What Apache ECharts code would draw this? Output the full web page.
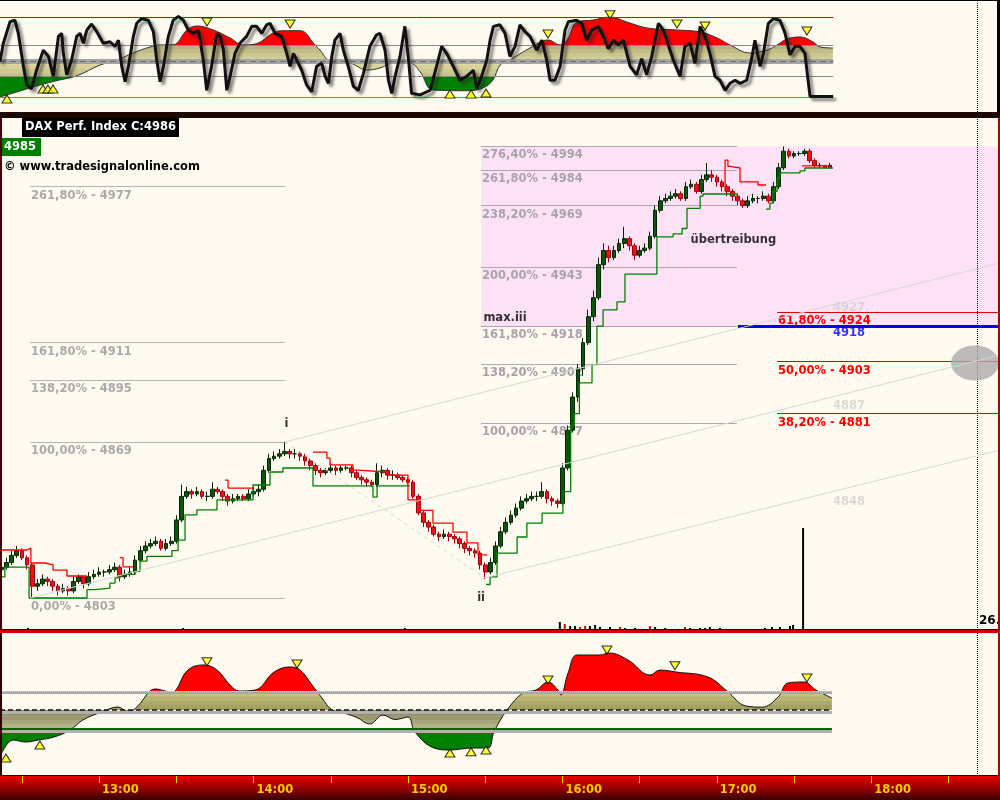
<!DOCTYPE html>
<html><head><meta charset="utf-8">
<script src="https://cdn.jsdelivr.net/npm/echarts@6/dist/echarts.min.js"></script>
<style>html,body{margin:0;padding:0;background:#fffaf0}#c{width:1000px;height:800px}</style>
</head><body><div id="c"></div>
<script>
// ===================== DATA (minutes after 12:00 on x, index points on y) =====================
const barStartMinute = 22, barStepMinutes = 2;
const opens = [4815,4816,4818,4821,4823,4820,4817,4808,4809,4811,4810,4808,4806,4807,4806,4810,4812,4809,4812,4813,4814,4814,4815,4816,4812,4813,4814,4819,4823,4825,4826,4827,4824,4826,4827,4836,4846,4848,4847,4848,4846,4846,4849,4848,4846,4844,4845,4846,4845,4847,4848,4849,4857,4862,4863,4864,4865,4864,4864,4863,4861,4859,4857,4856,4857,4858,4857,4858,4858,4856,4854,4853,4852,4851,4856,4857,4855,4855,4854,4853,4852,4846,4839,4835,4833,4830,4829,4830,4829,4828,4826,4824,4823,4822,4817,4814,4818,4825,4831,4835,4838,4841,4844,4845,4846,4846,4848,4845,4844,4843,4858,4874,4888,4900,4911,4922,4930,4944,4950,4947,4950,4953,4955,4952,4948,4950,4951,4956,4967,4971,4972,4973,4974,4972,4977,4978,4975,4980,4982,4981,4979,4977,4975,4973,4971,4969,4971,4972,4972,4973,4971,4977,4985,4992,4990,4991,4991,4992,4988,4986,4986,4985];
const closes = [4816,4818,4821,4823,4820,4817,4808,4809,4811,4810,4808,4806,4807,4806,4810,4812,4809,4812,4813,4814,4814,4815,4816,4812,4813,4814,4819,4823,4825,4826,4827,4824,4826,4827,4836,4846,4848,4847,4848,4846,4846,4849,4848,4846,4844,4845,4846,4845,4847,4848,4849,4857,4862,4863,4864,4865,4864,4864,4863,4861,4859,4857,4856,4857,4858,4857,4858,4858,4856,4854,4853,4852,4851,4856,4857,4855,4855,4854,4853,4852,4846,4839,4835,4833,4830,4829,4830,4829,4828,4826,4824,4823,4822,4817,4814,4818,4825,4831,4835,4838,4841,4844,4845,4846,4846,4848,4845,4844,4843,4858,4874,4888,4900,4911,4922,4930,4944,4950,4947,4950,4953,4955,4952,4948,4950,4951,4956,4967,4971,4972,4973,4974,4972,4977,4978,4975,4980,4982,4981,4979,4977,4975,4973,4971,4969,4971,4972,4972,4973,4971,4977,4985,4992,4990,4991,4991,4992,4988,4986,4986,4985,4986];
const lows = [4813,4815,4817,4820,4819,4815,4803,4806,4808,4808,4806,4804,4805,4804,4805,4809,4807,4808,4811,4812,4812,4813,4814,4810,4811,4812,4813,4818,4822,4824,4825,4823,4823,4825,4826,4835,4845,4845,4846,4845,4844,4845,4847,4844,4842,4843,4844,4844,4844,4846,4846,4848,4856,4861,4862,4863,4862,4862,4861,4859,4857,4855,4854,4855,4856,4855,4856,4857,4854,4853,4851,4850,4850,4850,4854,4853,4853,4853,4852,4851,4845,4838,4833,4831,4829,4827,4828,4827,4826,4824,4822,4821,4820,4815,4811,4813,4817,4824,4830,4834,4837,4840,4843,4844,4844,4845,4843,4842,4841,4842,4857,4873,4886,4897,4910,4920,4929,4942,4945,4946,4949,4951,4950,4946,4947,4949,4950,4955,4966,4970,4971,4972,4971,4971,4976,4974,4974,4979,4979,4977,4975,4973,4971,4969,4968,4968,4970,4970,4971,4970,4970,4976,4984,4989,4989,4990,4990,4987,4985,4985,4985,4985];
const highs = [4818,4820,4823,4825,4824,4821,4818,4811,4813,4812,4811,4809,4809,4808,4812,4813,4812,4814,4815,4816,4815,4817,4818,4817,4815,4816,4821,4825,4827,4828,4829,4828,4828,4829,4838,4851,4850,4849,4850,4849,4848,4852,4850,4849,4847,4847,4847,4847,4849,4850,4851,4859,4864,4865,4866,4869,4866,4866,4865,4864,4862,4860,4858,4858,4860,4859,4859,4859,4859,4857,4855,4854,4853,4860,4859,4858,4857,4856,4855,4854,4853,4847,4840,4836,4834,4831,4832,4831,4830,4829,4827,4825,4824,4823,4818,4820,4827,4833,4837,4840,4843,4846,4847,4848,4848,4852,4849,4846,4845,4860,4876,4890,4902,4913,4925,4933,4947,4953,4952,4952,4955,4960,4956,4953,4952,4953,4958,4969,4973,4974,4975,4976,4975,4979,4980,4979,4982,4987,4984,4982,4980,4978,4976,4974,4972,4973,4974,4973,4975,4974,4979,4987,4994,4993,4992,4992,4993,4993,4989,4987,4986,4987];

// trailing stop lines (green = support, red = resistance)
const greenStops = [
  [[21.5,4811.9],[23.4,4816.1],[32.8,4803],[55.3,4806.5],[58.4,4807.2],[64.2,4809.3],[66.2,4811.5],[68.1,4813],[74,4814.3],[75.9,4818.6],[78.6,4820.6],[88.3,4823],[90.7,4827.5],[93.4,4838.2],[98,4840.3],[105.8,4844.5],[119.8,4850.8],[126.4,4856.3],[131.4,4858],[143.1,4850.4],[166.4,4845.7],[168,4850.4],[180.8,4850.4]],
  [[210.3,4808.7],[211.9,4811.9],[214.6,4822],[222.4,4828.8],[226.2,4834.7],[232.1,4838.9],[240.2,4848],[243.2,4876],[244.6,4881],[246.6,4894],[251.5,4901.7],[253.4,4918],[255.8,4924.9],[261.2,4928.3],[264.3,4940],[276.7,4955.8],[283,4957],[286.5,4959.3],[288.4,4967.8],[293.5,4973],[294.6,4973.9],[308.2,4973.9]],
  [[319.1,4967.5],[320.6,4970],[321.8,4975],[323.4,4980.5],[324.5,4982.8],[332.3,4983.7],[334.2,4984.9],[345.1,4984.9]]
];
const redStops = [
  [[21.5,4823.3],[32,4824.1],[33.5,4817.8],[39,4817],[42.1,4814.8],[47.5,4812.3],[55.3,4812.3]],
  [[68.1,4820.1],[69.3,4816.2],[73.2,4816.2]],
  [[108.9,4852.9],[110.1,4849.5],[119.8,4849.5]],
  [[143.1,4864.7],[148.5,4862.2],[149.7,4859.3],[158.6,4857.1],[160.2,4856.3],[171.9,4855],[180,4844.5],[184.7,4840.1],[189.7,4834.7],[197.5,4830.9],[202.9,4826.3],[207.2,4821.2],[210.7,4821.2]],
  [[303.2,4975],[303.2,4988.2],[304.3,4985.6],[305.1,4984.9],[309,4979],[316,4977.7],[319.1,4977.7]],
  [[333.1,4985.8],[344,4985.8]]
];

// volume
const volTimes  = [32.4,92.6,178.8,223.1,239,240.9,243,244.9,246.8,248.8,250.7,252.7,254.6,258.5,262.4,264.3,268.2,274,276,279.9,287.6,289.6,293.5,295.4,297.3,301.2,318.7,321.4,324.5,328.4,329.6,333.5];
const volValues = [20,20,20,10,80,60,40,40,30,40,40,50,30,30,30,20,20,40,30,20,30,20,20,20,30,20,20,30,30,40,50,1020];
const volTone   = ['k','k','k','k','k','r','k','k','r','r','k','k','k','k','r','k','k','r','k','k','r','k','k','k','k','k','k','k','k','k','k','k'];

// upper panel: fast oscillator + slow oscillator
const fastTimes = [21.5,22.8,25.4,27.3,28.6,30.6,31.9,33.8,35.7,38.3,40.3,42.2,44.2,45.5,46.1,47.4,49.3,51.3,52.6,53.9,55.2,57.1,59.1,61.6,64.2,66.2,67.5,68.8,70.1,71.4,73.3,74.6,76.5,79.1,81.1,82.4,83.7,85,86.9,88.8,90.8,92.7,94.7,96.6,98.6,100.5,101.8,103.7,105.7,107,108.3,109.6,110.9,112.8,114.7,117.3,119.3,121.2,123.2,125.1,126.4,128.3,130.9,132.9,134.2,135.5,137.4,138.7,140.6,142.6,144.5,146.5,147.8,149.1,150.4,151.6,153.6,154.9,156.8,158.8,160.7,162.7,165.2,167.8,169.1,171.1,172.4,173.7,175,176.9,178.8,180.1,181.4,184.7,188.6,191.1,193.1,195,197.6,200.2,202.8,205.4,206.7,208.6,210.6,211.9,213.2,215.7,217.7,219.6,221.6,223.5,225.5,227.4,230,232,233.9,235.2,237.1,239.1,241,242.3,245.5,247.5,249.4,251.4,254,255.9,257.8,259.8,261.7,263.7,266.3,268.8,270.8,272.7,274.7,277.3,279.2,281.1,283.1,285.7,287.6,289.6,291.5,293.5,295.4,297.3,299.3,301.2,303.2,305.1,307.1,309,311.6,313.5,314.8,316.8,318.1,320,322,324.5,326.5,328.4,330.4,332.3,334.2,336.2,338.8,345.2];
const fastValues = [49,73,101,103,86,43,19,14,38,64,56,30,82,86,60,32,51,82,86,73,90,98,88,73,75,69,77,43,23,43,82,99,105,103,88,51,23,43,82,103,108,103,90,86,90,51,12,43,86,82,64,12,30,60,73,82,95,95,86,97,99,86,82,60,43,60,47,38,19,10,43,47,30,21,56,77,86,64,43,17,12,34,69,84,86,64,25,8,30,56,95,56,8,6,12,43,69,60,43,25,30,38,14,30,51,77,95,97,86,56,69,97,88,82,64,77,51,25,25,43,90,101,103,99,77,90,95,82,66,77,71,77,43,32,53,32,56,99,90,71,51,30,69,73,47,95,82,60,30,25,12,21,25,21,25,53,77,43,60,99,105,103,86,58,69,69,60,4,4,4];
const topSlowTimes = [21.5,33.2,42.9,51.4,60.4,67,73.2,79.8,83.7,88.7,94.2,98,104.3,110.9,115.9,120.6,127.6,131.4,138.1,143.9,145.8,149.7,157.5,164.1,169.1,174.2,180.8,184.7,189.7,202.9,209.1,213,215.8,219.6,227.4,234.4,239.1,241.8,245.7,251.9,258.5,265.1,272.9,284.5,293.5,300.1,305.1,312.9,319.5,323.4,327.3,332.3,337.4,340.1,345.1];
const topSlowValues = [3.2,15,24,30.9,44.8,51.3,60.4,68.2,70.8,71,90.3,95.5,90.3,79.9,70.8,72,86.4,89.4,89.4,70.8,64.3,50,47.4,38.3,40.9,47.4,47.4,36,12.3,11.4,15,25.3,44.8,51.3,66.9,77.3,70.8,77.3,100.6,103.2,107.1,100.6,92.9,90.3,87.7,79.9,70.8,60.4,64.3,70.8,78.6,81.2,74.7,68.2,66.9];
const topPeaks   = [[101.9,100.6],[134.2,98],[234.4,85],[258.5,110],[284.5,98],[295.4,95.5],[335,89]];
const topTroughs = [[24.2,0.6],[38.2,13.6],[40.1,13.6],[42.1,13.6],[196.3,7],[204.5,7],[210.3,8.4]];

// lower panel oscillator
const botSlowTimes = [21.5,26.6,31.6,36.3,42.5,48.7,53.7,61.1,67.3,71.2,74.7,79.8,82.1,85.6,88.3,94.5,100.8,105.8,110.9,114.4,120.6,128,134.2,138.1,142.7,146.6,150.5,155.1,160.2,165.2,170.3,175,180,182.7,190.1,196.3,204.9,211.1,213.4,218.5,224.7,229.7,234.4,238.3,239.4,242.2,245.7,254.6,258.1,265.5,274,277.9,284.1,296.6,303.9,311.3,317.5,323.8,327.6,333.9,338.5,344.7];
const botSlowValues = [0.5,18.4,16.3,18.4,21.6,28.9,39.5,47.9,53.2,47.9,53.2,70,72.1,70,68.9,92.1,97.4,92.1,76.3,70,71,90,95.3,92.1,76.3,62.6,50,46.8,42,35.3,44.7,40,42.6,26.8,10,7.9,10,10,26.8,50,67.9,71,79.5,71,65.8,88.9,107.9,107.9,110,102.6,86.8,92,90,84.7,70,54.2,53,63.7,78.4,79.5,71,62.6];
const botPeaks   = [[101.9,100.8],[136.9,98.4],[234.4,81.6],[257.3,113.2],[283.7,96.6],[335,83.7]];
const botTroughs = [[23.8,-0.5],[37,13.2],[196.3,4.7],[204.5,6.1],[210.3,7.9]];
const oscHi = 70, oscMid = 50, oscLo = 30;
const topUpperBound = 106.75, topLowerBound = 2.86;

// Fibonacci projections / retracements
const leftFib  = [['261,80%',4977],['161,80%',4911],['138,20%',4895],['100,00%',4869],['0,00%',4803]];
const leftFibSpan = [33.2, 132.2];
const rightFib = [['276,40%',4994],['261,80%',4984],['238,20%',4969],['200,00%',4943],['161,80%',4918],['138,20%',4902],['100,00%',4877]];
const rightFibSpan = [208.4, 307.8];
const retrace = [['61,80%',4924],['50,00%',4903],['38,20%',4881]];
const retraceSpan = [323.4, 410];
const targetLevel = 4918, targetSpan = [308.2, 410];
const pinkZone = {from:208.4, to:410, top:4994, bottom:4918};
const channels = [[[132.2,4869],[410,4944.7]], [[33.2,4803],[410,4905.8]], [[209.9,4811.5],[410,4865.6]]];
const waveLine = [[132.2,4869],[209.9,4811.5]];
const waveNotes = [['i',132.8,4876.4,'c'],['ii',208.4,4803.2,'c'],['max.iii',209.1,4921.4,'l'],['übertreibung',289.6,4954.4,'l']];
const channelNotes = [['4927',351.3,4925.7],['4887',351.3,4884.2],['4848',351.3,4843.6]];
const targetNote = ['4918',351.3,4915.1];
const focusPoint = [400.3, 4902.4];
const sessionEnd = 401.1;
const timeLabels = [60,120,180,240,300,360];
const timeTicks = [30,60,90,120,150,180,210,240,270,300,330,360,390];

// ===================== CHART =====================
const FONT = 'DejaVu Sans';
const X_MIN = 21.5, X_MAX = 410;
const pairs = (xs, ys) => xs.map((x, i) => [x, ys[i]]);
const chart = echarts.init(document.getElementById('c'), null, {width:1000, height:800});

const series = [];
// ---- top panel
const topAreaIdx = series.length;
series.push({type:'line', xAxisIndex:0, yAxisIndex:0, data:pairs(topSlowTimes, topSlowValues), symbol:'none', smooth:0.4,
  lineStyle:{color:'#333', width:1}, areaStyle:{origin:oscMid, opacity:1}, z:2, silent:true});
const lvl = (x0, x1, v, style) => [{coord:[x0, v], lineStyle:style}, {coord:[x1, v]}];
series.push({type:'line', xAxisIndex:0, yAxisIndex:0, data:[], silent:true,
  markLine:{silent:true, symbol:'none', z:3, animation:false, label:{show:false}, data:[
    lvl(X_MIN, 345.2, topUpperBound, {color:'#e00000', width:1, type:'solid'}),
    lvl(X_MIN, 345.2, oscHi, {color:'#8a8a8a', width:1, type:'solid'}),
    lvl(X_MIN, 345.2, oscMid, {color:'#a4a4a4', width:5, type:'solid'}),
    lvl(X_MIN, 345.2, oscMid, {color:'#6a6a6a', width:1, type:[6,4]}),
    lvl(X_MIN, 345.2, oscLo, {color:'#8a8a8a', width:1, type:'solid'}),
    lvl(X_MIN, 345.2, topLowerBound, {color:'#3cb043', width:1, type:'solid'}),
    {xAxis:sessionEnd, lineStyle:{color:'#000', width:1, type:'dotted'}}
  ]}});
series.push({type:'line', xAxisIndex:0, yAxisIndex:0, data:pairs(fastTimes, fastValues), symbol:'none', silent:true, z:4,
  lineStyle:{color:'#111', width:3, shadowColor:'rgba(40,40,40,0.6)', shadowBlur:3, shadowOffsetX:3, shadowOffsetY:3}});
const tri = (data, gx, gy, down) => ({type:'scatter', xAxisIndex:gx, yAxisIndex:gy, data, symbol:'triangle', symbolRotate: down ? 180 : 0,
  symbolSize:[10,8], itemStyle:{color:'#ffff00', borderColor:'#000', borderWidth:1}, z:6, silent:true});
series.push(tri(topPeaks, 0, 0, true), tri(topTroughs, 0, 0, false));

// ---- main panel
const fibLine = (span, lv, lineColor, textColor) => [
  {coord:[span[0], lv[1]], lineStyle:{color:lineColor, width:1, type:'solid'},
   label:{show:true, formatter: lv[0] + ' - ' + lv[1], position:'insideStartBottom', distance:[1,3],
          color:textColor, fontFamily:FONT, fontWeight:'bold', fontSize:11.5}},
  {coord:[span[1], lv[1]]}];
series.push({type:'line', xAxisIndex:1, yAxisIndex:1, data:[], silent:true,
  markArea:{silent:true, z:0, itemStyle:{color:'#fde2f6'}, data:[[{coord:[pinkZone.from, pinkZone.top]}, {coord:[pinkZone.to, pinkZone.bottom]}]]},
  markLine:{silent:true, symbol:'none', z:1, animation:false, data:[
    ...leftFib.map(l => fibLine(leftFibSpan, l, '#b4b4b4', '#aaaaaa')),
    ...rightFib.map(l => fibLine(rightFibSpan, l, '#b0a4b0', '#aaa2aa')),
    ...retrace.map(l => fibLine(retraceSpan, l, '#e00000', '#ff0000')),
    [{coord:[targetSpan[0], targetLevel], lineStyle:{color:'#0000ff', width:3, type:'solid'}, label:{show:false}}, {coord:[targetSpan[1], targetLevel]}],
    {xAxis:sessionEnd, lineStyle:{color:'#000', width:1, type:'dotted'}, label:{show:false}}
  ]}});
series.push({type:'scatter', xAxisIndex:1, yAxisIndex:1, data:[focusPoint], symbol:'circle', symbolSize:[48,35],
  itemStyle:{color:'#ababab'}, z:1, silent:true});
series.push({type:'bar', xAxisIndex:1, yAxisIndex:2, barWidth:2, silent:true, z:3,
  data: volTimes.map((t, i) => ({value:[t, volValues[i]], itemStyle:{color: volTone[i] === 'r' ? '#e00000' : '#000'}}))});
series.push({type:'candlestick', xAxisIndex:1, yAxisIndex:1, barWidth:4.2, z:3, silent:true,
  encode:{x:0, y:[1,2,3,4]},
  data: opens.map((o, i) => [barStartMinute + i * barStepMinutes, o, closes[i], lows[i], highs[i]]),
  itemStyle:{color:'#0c560c', color0:'#f0101c', borderColor:'#032603', borderColor0:'#a0000c', borderWidth:1}});
greenStops.forEach(seg => series.push({type:'line', xAxisIndex:1, yAxisIndex:1, data:seg, step:'end', symbol:'none', silent:true, z:4,
  lineStyle:{color:'#008000', width:1.3}}));
redStops.forEach(seg => series.push({type:'line', xAxisIndex:1, yAxisIndex:1, data:seg, step:'end', symbol:'none', silent:true, z:4,
  lineStyle:{color:'#ff0000', width:1.3}}));
series.push({type:'line', xAxisIndex:1, yAxisIndex:1, data:[], silent:true,
  markLine:{silent:true, symbol:'none', z:6, animation:false, label:{show:false}, data:[
    ...channels.map(c => [{coord:c[0], lineStyle:{color:'#d6d6d6', width:1, type:'solid'}}, {coord:c[1]}]),
    [{coord:waveLine[0], lineStyle:{color:'#d4d4d4', width:1, type:[4,4]}}, {coord:waveLine[1]}]
  ]}});
const note = (text, x, y, color, align) => ({value:[x, y], label:{show:true, formatter:text, position: align === 'l' ? 'right' : 'inside',
  distance:0, color, fontFamily:FONT, fontWeight:'bold', fontSize:11.5}});
series.push({type:'scatter', xAxisIndex:1, yAxisIndex:1, symbol:'circle', symbolSize:1, itemStyle:{color:'rgba(0,0,0,0)'}, silent:true, z:7,
  data:[
    ...waveNotes.map(n => note(n[0], n[1], n[2], '#000', n[3])),
    ...channelNotes.map(n => note(n[0], n[1], n[2], '#d2d2d2', 'c')),
    note(targetNote[0], targetNote[1], targetNote[2], '#0000ff', 'c')
  ]});

// ---- bottom panel
const botAreaIdx = series.length;
series.push({type:'line', xAxisIndex:2, yAxisIndex:3, data:pairs(botSlowTimes, botSlowValues), symbol:'none', smooth:0.4,
  lineStyle:{color:'#111', width:1}, areaStyle:{origin:oscMid, opacity:1}, z:2, silent:true});
series.push({type:'line', xAxisIndex:2, yAxisIndex:3, data:[], silent:true,
  markLine:{silent:true, symbol:'none', z:3, animation:false, label:{show:false}, data:[
    lvl(X_MIN, 344.7, oscHi - 1.2, {color:'#a8a8a8', width:3, type:'solid'}),
    lvl(X_MIN, 344.7, oscHi, {color:'#dadada', width:1, type:'dotted'}),
    lvl(X_MIN, 344.7, oscMid - 2, {color:'#b0b0b0', width:3, type:'solid'}),
    lvl(X_MIN, 344.7, oscMid, {color:'#111', width:1.5, type:[5,3]}),
    lvl(X_MIN, 344.7, oscLo - 2, {color:'#b0b0b0', width:3, type:'solid'}),
    lvl(X_MIN, 344.7, oscLo, {color:'#006400', width:2, type:'solid'}),
    {xAxis:sessionEnd, lineStyle:{color:'#000', width:1, type:'dotted'}}
  ]}});
series.push(tri(botPeaks, 2, 3, true), tri(botTroughs, 2, 3, false));

const topPieces = [
  {lt:30, color:'#008000'},
  {gte:30, lt:35, color:'#c6c08e'}, {gte:35, lt:40, color:'#cfc995'}, {gte:40, lt:45, color:'#d8d19c'}, {gte:45, lt:50, color:'#e0d9a2'},
  {gte:50, lt:55, color:'#d6cf9a'}, {gte:55, lt:60, color:'#ccc691'}, {gte:60, lt:65, color:'#c2bc88'}, {gte:65, lt:70, color:'#b8b280'},
  {gte:70, color:'#ff0000'}];
const botPieces = [
  {lt:30, color:'#008000'},
  {gte:30, lt:35, color:'#b4b287'}, {gte:35, lt:40, color:'#a9a67d'}, {gte:40, lt:45, color:'#9d9a72'}, {gte:45, lt:50, color:'#8f8c66'},
  {gte:50, lt:55, color:'#a4a064'}, {gte:55, lt:60, color:'#aeaa6b'}, {gte:60, lt:65, color:'#b9b573'}, {gte:65, lt:70, color:'#c6c27c'},
  {gte:70, color:'#ff0000'}];

const hiddenX = gi => ({type:'value', gridIndex:gi, min:X_MIN, max:X_MAX, show:false});
const option = {
  animation:false,
  backgroundColor:'#fffaf0',
  textStyle:{fontFamily:FONT},
  grid:[
    {left:0, right:0, top:3, height:109},
    {left:0, right:0, top:118, height:512},
    {left:0, right:0, top:633, height:143}
  ],
  xAxis:[hiddenX(0), hiddenX(1),
    {type:'value', gridIndex:2, min:X_MIN, max:X_MAX, position:'bottom', splitLine:{show:false}, axisLine:{show:false, onZero:false},
     axisTick:{show:true, customValues:timeTicks, length:7, lineStyle:{color:'#ffd800', width:1}},
     axisLabel:{show:true, customValues:timeLabels, color:'#ffcc00', fontWeight:'bold', fontSize:11.5, fontFamily:FONT,
       align:'left', padding:[0,0,0,3], margin:8,
       formatter: v => (12 + Math.floor(v / 60)) + ':00'}}],
  yAxis:[
    {type:'value', gridIndex:0, min:-16.23, max:125.32, show:false},
    {type:'value', gridIndex:1, min:4789.46, max:5006.05, show:false},
    {type:'value', gridIndex:1, min:0, max:5120, show:false},
    {type:'value', gridIndex:2, min:-19.47, max:131.05, show:false}
  ],
  visualMap:[
    {type:'piecewise', show:false, seriesIndex:topAreaIdx, dimension:1, pieces:topPieces},
    {type:'piecewise', show:false, seriesIndex:botAreaIdx, dimension:1, pieces:botPieces}
  ],
  series,
  graphic:[
    {type:'rect', z:100, silent:true, shape:{x:0,y:0,width:1000,height:1}, style:{fill:'#000'}},
    {type:'rect', z:100, silent:true, shape:{x:997,y:0,width:3,height:113}, style:{fill:'#000'}},
    {type:'rect', z:100, silent:true, shape:{x:0,y:112,width:1000,height:6}, style:{fill:'#1c0800'}},
    {type:'rect', z:100, silent:true, shape:{x:0,y:118,width:2,height:512}, style:{fill:'#4a0000'}},
    {type:'rect', z:100, silent:true, shape:{x:998,y:118,width:2,height:658}, style:{fill:'#b00000'}},
    {type:'rect', z:100, silent:true, shape:{x:0,y:629,width:1000,height:1}, style:{fill:'#300000'}},
    {type:'rect', z:100, silent:true, shape:{x:0,y:630,width:1000,height:3}, style:{fill:'#d00000'}},
    {type:'rect', z:100, silent:true, shape:{x:0,y:633,width:2,height:143}, style:{fill:'#300000'}},
    {type:'rect', z:100, silent:true, shape:{x:0,y:775,width:1000,height:1}, style:{fill:'#200000'}},
    {type:'rect', z:-5, silent:true, shape:{x:0,y:776,width:1000,height:24},
      style:{fill:new echarts.graphic.LinearGradient(0,0,0,1,[{offset:0,color:'#e80000'},{offset:0.45,color:'#a00000'},{offset:1,color:'#380000'}])}},
    {type:'rect', z:100, silent:true, shape:{x:22,y:118,width:157,height:19}, style:{fill:'#000'}},
    {type:'text', z:101, silent:true, x:25, y:127.5, style:{text:'DAX Perf. Index C:4986', fill:'#fff', font:'bold 11.5px "DejaVu Sans"', verticalAlign:'middle'}},
    {type:'rect', z:100, silent:true, shape:{x:2,y:138,width:39,height:18}, style:{fill:'#008000'}},
    {type:'text', z:101, silent:true, x:4, y:147, style:{text:'4985', fill:'#fff', font:'bold 11.5px "DejaVu Sans"', verticalAlign:'middle'}},
    {type:'text', z:101, silent:true, x:4, y:167, style:{text:'© www.tradesignalonline.com', fill:'#000', font:'bold 11.5px "DejaVu Sans"', verticalAlign:'middle'}},
    {type:'text', z:99, silent:true, x:979, y:621, style:{text:'26.', fill:'#000', font:'bold 12px "DejaVu Sans"', verticalAlign:'middle'}}
  ]
};
chart.setOption(option);
</script></body></html>
